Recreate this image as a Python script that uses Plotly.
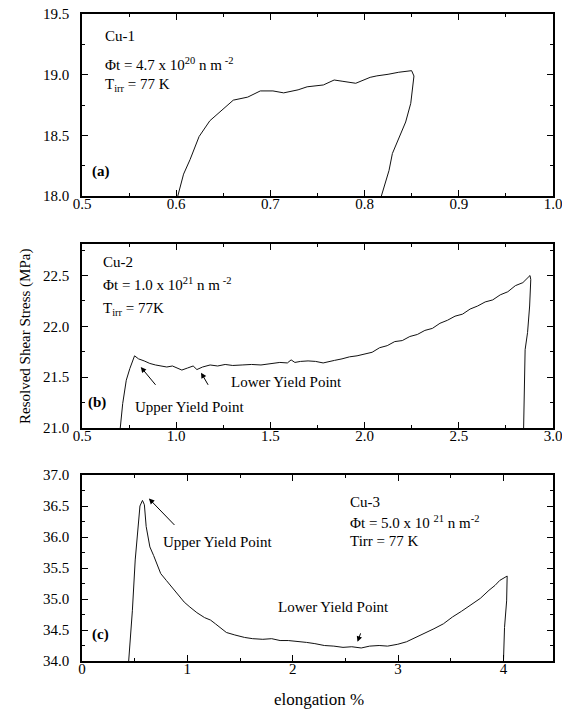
import plotly.graph_objects as go

# ---------------- data ----------------
# Panel (a) Cu-1
xa = [0.6017, 0.6078, 0.6147, 0.6243, 0.6357, 0.6491, 0.6606, 0.6759, 0.6893, 0.7027,
      0.7141, 0.7294, 0.739, 0.7562, 0.7677, 0.777, 0.7906, 0.8059, 0.813, 0.8249,
      0.8363, 0.8499, 0.8524, 0.849, 0.8436, 0.8295, 0.8259, 0.8178]
ya = [18.0, 18.18, 18.30, 18.49, 18.62, 18.71, 18.79, 18.815, 18.866, 18.866,
      18.85, 18.875, 18.90, 18.915, 18.956, 18.945, 18.929, 18.978, 18.99, 19.003,
      19.02, 19.033, 18.989, 18.764, 18.61, 18.35, 18.21, 18.0]

# Panel (b) Cu-2
xb = [0.703, 0.716, 0.735, 0.754, 0.779, 0.80, 0.83, 0.86, 0.89, 0.92,
      0.95, 0.98, 1.01, 1.03, 1.06, 1.09, 1.11, 1.14, 1.18, 1.22,
      1.26, 1.30, 1.35, 1.40, 1.45, 1.50, 1.55, 1.59, 1.61, 1.63,
      1.66, 1.70, 1.74, 1.78, 1.80, 1.84, 1.88, 1.92, 1.96, 2.00,
      2.04, 2.08, 2.12, 2.16, 2.20, 2.24, 2.28, 2.32, 2.36, 2.40,
      2.44, 2.48, 2.52, 2.56, 2.60, 2.64, 2.68, 2.72, 2.76, 2.80,
      2.84, 2.878, 2.882, 2.876, 2.865, 2.852, 2.847, 2.844]
yb = [21.0, 21.24, 21.47, 21.585, 21.71, 21.68, 21.66, 21.635, 21.62, 21.61,
      21.60, 21.61, 21.59, 21.57, 21.59, 21.61, 21.575, 21.60, 21.62, 21.61,
      21.625, 21.615, 21.62, 21.625, 21.62, 21.63, 21.645, 21.64, 21.67, 21.645,
      21.655, 21.66, 21.655, 21.64, 21.65, 21.665, 21.68, 21.70, 21.71, 21.725,
      21.745, 21.79, 21.81, 21.85, 21.86, 21.90, 21.92, 21.96, 21.98, 22.03,
      22.06, 22.10, 22.12, 22.17, 22.20, 22.24, 22.26, 22.31, 22.34, 22.40,
      22.43, 22.50, 22.46, 22.20, 21.94, 21.77, 21.40, 21.0]

# Panel (c) Cu-3
xc = [0.443, 0.478, 0.505, 0.529, 0.55, 0.574, 0.592, 0.609, 0.644, 0.68,
      0.713, 0.747, 0.80, 0.851, 0.92, 0.97, 1.024, 1.09, 1.163, 1.22,
      1.266, 1.32, 1.37, 1.45, 1.543, 1.62, 1.716, 1.80, 1.88, 1.958,
      2.04, 2.13, 2.21, 2.30, 2.39, 2.477, 2.56, 2.65, 2.73, 2.82,
      2.90, 2.997, 3.08, 3.17, 3.25, 3.34, 3.43, 3.516, 3.60, 3.689,
      3.78, 3.862, 3.92, 3.965, 4.017, 4.035, 4.03, 4.01, 4.0]
yc = [34.0, 34.81, 35.63, 36.17, 36.5, 36.59, 36.52, 36.17, 35.84, 35.70,
      35.57, 35.41, 35.30, 35.19, 35.06, 34.95, 34.87, 34.78, 34.70, 34.66,
      34.60, 34.52, 34.46, 34.42, 34.38, 34.36, 34.35, 34.36, 34.33, 34.33,
      34.32, 34.30, 34.28, 34.25, 34.24, 34.22, 34.23, 34.21, 34.24, 34.25,
      34.24, 34.27, 34.31, 34.38, 34.44, 34.52, 34.60, 34.71, 34.80, 34.90,
      35.01, 35.14, 35.22, 35.30, 35.36, 35.37, 34.97, 34.54, 34.0]

# axis ranges / ticks
xrange_a, yrange_a = [0.5, 1.0], [18.0, 19.5]
xrange_b, yrange_b = [0.5, 3.0], [21.0, 22.81]
xrange_c, yrange_c = [0.0, 4.47], [34.0, 37.0]
xticks_a = [0.5, 0.6, 0.7, 0.8, 0.9, 1.0]
yticks_a = [18.0, 18.5, 19.0, 19.5]
xticks_b = [0.5, 1.0, 1.5, 2.0, 2.5, 3.0]
yticks_b = [21.0, 21.5, 22.0, 22.5]
xticks_c = [0, 1, 2, 3, 4]
yticks_c = [34.0, 34.5, 35.0, 35.5, 36.0, 36.5, 37.0]

FONT = "Liberation Serif"
W, H = 562, 711
L, R, T, B = 82, 9, 14, 50

fig = go.Figure()
line = dict(color="#111111", width=1)
fig.add_trace(go.Scatter(x=xa, y=ya, mode="lines", line=line, xaxis="x", yaxis="y", showlegend=False))
fig.add_trace(go.Scatter(x=xb, y=yb, mode="lines", line=line, xaxis="x2", yaxis="y2", showlegend=False))
fig.add_trace(go.Scatter(x=xc, y=yc, mode="lines", line=line, xaxis="x3", yaxis="y3", showlegend=False))

ph = H - T - B
pw = W - L - R
def py(ref_px):
    return (H - B - ref_px) / ph
def px(ref_px):
    return (ref_px - L) / pw
def dom(top_px, bot_px):
    return [py(bot_px), py(top_px)]

def axis_common(rng, ticks, fmt, minor_dtick):
    return dict(range=rng, tickvals=ticks, ticktext=[fmt.format(t) for t in ticks],
                ticks="inside", ticklen=6, tickwidth=1, tickcolor="black",
                minor=dict(ticks="inside", ticklen=3, tickwidth=1, tickcolor="black", dtick=minor_dtick,
                           tick0=rng[0]),
                showline=True, linecolor="black", linewidth=1.5, mirror="ticks",
                showgrid=False, zeroline=False, automargin=False,
                ticklabeloverflow="allow",
                tickfont=dict(family=FONT, size=15, color="black"))

xa_ax = axis_common(xrange_a, xticks_a, "{:.1f}", 0.05)
xb_ax = axis_common(xrange_b, xticks_b, "{:.1f}", 0.25)
xc_ax = axis_common(xrange_c, xticks_c, "{:.0f}", 0.5)
ya_ax = axis_common(yrange_a, yticks_a, "{:.1f}", 0.25)
yb_ax = axis_common(yrange_b, yticks_b, "{:.1f}", 0.25)
yc_ax = axis_common(yrange_c, yticks_c, "{:.1f}", 0.25)
for ax in (ya_ax, yb_ax, yc_ax):
    ax["ticklabelstandoff"] = 8
for ax in (xa_ax, xb_ax, xc_ax):
    ax["ticklabelstandoff"] = -7

fig.update_layout(
    width=W, height=H,
    margin=dict(l=L, r=R, t=T, b=B, autoexpand=False),
    paper_bgcolor="white", plot_bgcolor="white",
    font=dict(family=FONT, size=15, color="black"),
    xaxis=dict(xa_ax, domain=[0, 1], anchor="y"),
    yaxis=dict(ya_ax, domain=dom(14, 196), anchor="x"),
    xaxis2=dict(xb_ax, domain=[0, 1], anchor="y2"),
    yaxis2=dict(yb_ax, domain=dom(244, 428), anchor="x2"),
    xaxis3=dict(xc_ax, domain=[0, 1], anchor="y3"),
    yaxis3=dict(yc_ax, domain=dom(475, 661), anchor="x3"),
)

def txt(s, x, y, xref, yref, size=15, bold=False):
    fig.add_annotation(text=("<b>%s</b>" % s) if bold else s, x=x, y=y, xref=xref, yref=yref,
                       xanchor="left", yanchor="middle", showarrow=False,
                       font=dict(family=FONT, size=size, color="black"))

# panel a
txt("Cu-1", 0.045, 0.879, "x domain", "y domain")
txt("Φt = 4.7 x 10<sup>20</sup> n m<sup> -2</sup>", 0.045, 0.725, "x domain", "y domain")
txt("T<sub>irr</sub> = 77 K", 0.045, 0.61, "x domain", "y domain")
txt("(a)", 0.017, 0.132, "x domain", "y domain", bold=True)

# panel b
txt("Cu-2", 0.04, 0.902, "x2 domain", "y2 domain")
txt("Φt = 1.0 x 10<sup>21</sup> n m<sup> -2</sup>", 0.04, 0.785, "x2 domain", "y2 domain")
txt("T<sub>irr</sub> = 77K", 0.04, 0.645, "x2 domain", "y2 domain")
txt("(b)", 0.008, 0.141, "x2 domain", "y2 domain", bold=True)
txt("Upper Yield Point", 0.108, 0.114, "x2 domain", "y2 domain")
txt("Lower Yield Point", 0.312, 0.25, "x2 domain", "y2 domain")

# panel c
txt("Cu-3", 0.565, 0.855, "x3 domain", "y3 domain")
txt("Φt = 5.0 x 10 <sup>21</sup> n m<sup>-2</sup>", 0.565, 0.75, "x3 domain", "y3 domain")
txt("Tirr = 77 K", 0.565, 0.645, "x3 domain", "y3 domain")
txt("(c)", 0.017, 0.14, "x3 domain", "y3 domain", bold=True)
txt("Upper Yield Point", 0.168, 0.64, "x3 domain", "y3 domain")
txt("Lower Yield Point", 0.412, 0.29, "x3 domain", "y3 domain")

def arrow(x, y, ax, ay, xr, yr):
    fig.add_annotation(x=x, y=y, ax=ax, ay=ay, xref=xr, yref=yr, axref=xr, ayref=yr,
                       text="", showarrow=True, arrowhead=2, arrowsize=1.1, arrowwidth=1,
                       arrowcolor="black")

arrow(0.812, 21.60, 0.897, 21.41, "x2", "y2")
arrow(1.132, 21.544, 1.174, 21.41, "x2", "y2")
arrow(0.635, 36.62, 0.891, 36.17, "x3", "y3")
arrow(2.615, 34.31, 2.649, 34.47, "x3", "y3")

# shared axis titles
fig.add_annotation(text="Resolved Shear Stress (MPa)", textangle=-90,
                   x=px(25), y=py(337), xref="paper", yref="paper",
                   xanchor="center", yanchor="middle", showarrow=False,
                   font=dict(family=FONT, size=15, color="black"))
fig.add_annotation(text="elongation %", x=px(319), y=py(699),
                   xref="paper", yref="paper", xanchor="center", yanchor="middle", showarrow=False,
                   font=dict(family=FONT, size=17, color="black"))

# remove the default page margin so the figure fills the 562x711 window exactly
fig.write_html("out.html", config={"displayModeBar": False},
               post_script="document.body.style.margin='0';")
